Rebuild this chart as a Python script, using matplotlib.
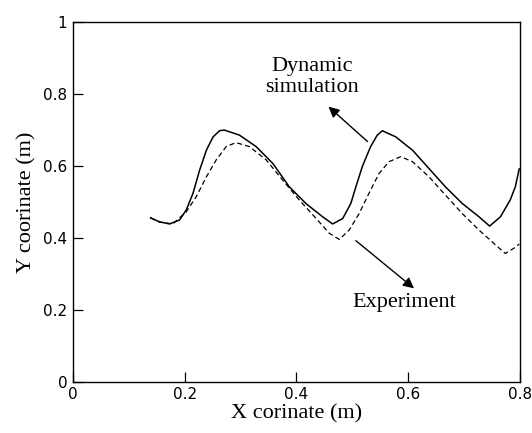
import matplotlib.pyplot as plt

# solid line: dynamic simulation
sim_x = [0.139, 0.155, 0.173, 0.191, 0.203, 0.215, 0.227, 0.239, 0.251, 0.2625, 0.271, 0.298,
         0.328, 0.358, 0.3875, 0.417, 0.447, 0.465, 0.483, 0.4976, 0.5066, 0.518, 0.533, 0.545,
         0.554, 0.578, 0.608, 0.6375, 0.667, 0.697, 0.727, 0.746, 0.7655, 0.783, 0.792, 0.799]
sim_y = [0.456, 0.445, 0.439, 0.450, 0.478, 0.524, 0.589, 0.644, 0.681, 0.698, 0.700, 0.686,
         0.654, 0.607, 0.542, 0.496, 0.459, 0.439, 0.454, 0.496, 0.542, 0.598, 0.654, 0.686,
         0.698, 0.681, 0.644, 0.593, 0.542, 0.496, 0.459, 0.433, 0.459, 0.506, 0.542, 0.592]

# dashed line: experiment
exp_x = [0.139, 0.155, 0.179, 0.203, 0.221, 0.239, 0.2566, 0.2745, 0.292, 0.316, 0.346, 0.3755,
         0.405, 0.435, 0.459, 0.477, 0.4946, 0.5125, 0.530, 0.548, 0.566, 0.587, 0.608, 0.6375,
         0.667, 0.697, 0.727, 0.7565, 0.774, 0.789, 0.799]
exp_y = [0.456, 0.444, 0.439, 0.473, 0.515, 0.570, 0.617, 0.654, 0.665, 0.654, 0.617, 0.561,
         0.506, 0.455, 0.413, 0.396, 0.422, 0.468, 0.524, 0.579, 0.612, 0.626, 0.612, 0.570,
         0.519, 0.468, 0.422, 0.381, 0.357, 0.371, 0.383]

xticks = [0, 0.2, 0.4, 0.6, 0.8]
xlabels = ['0', '0.2', '0.4', '0.6', '0.8']
yticks = [0, 0.2, 0.4, 0.6, 0.8, 1]
ylabels = ['0', '0.2', '0.4', '0.6', '0.8', '1']

fig = plt.figure(figsize=(5.32, 4.33), dpi=100)
ax = fig.add_axes([0.137, 0.118, 0.840, 0.831])

ax.plot(sim_x, sim_y, 'k-', lw=1.1)
ax.plot(exp_x, exp_y, 'k--', lw=0.9, dashes=(4, 2.5))

ax.set_xlim(0, 0.8)
ax.set_ylim(0, 1)
ax.set_xticks(xticks)
ax.set_xticklabels(xlabels)
ax.set_yticks(yticks)
ax.set_yticklabels(ylabels)
ax.tick_params(direction='in', length=7, width=0.9, labelsize=11, pad=4)
for s in ax.spines.values():
    s.set_linewidth(1.0)

ax.set_xlabel('X corinate (m)', family='Liberation Serif', fontsize=16, labelpad=1)
ax.set_ylabel('Y coorinate (m)', family='Liberation Serif', fontsize=16, labelpad=5)

arr = dict(arrowstyle='-|>', color='k', lw=1.0, mutation_scale=16, shrinkA=0, shrinkB=0)
ax.annotate('', xy=(0.4576, 0.765), xytext=(0.5274, 0.668), arrowprops=arr)
ax.annotate('', xy=(0.6107, 0.260), xytext=(0.5066, 0.3925), arrowprops=arr)

ax.text(0.428, 0.847, 'Dynamic\nsimulation', family='Liberation Serif', fontsize=16,
        ha='center', va='center', linespacing=1.1)
ax.text(0.593, 0.222, 'Experiment', family='Liberation Serif', fontsize=16,
        ha='center', va='center')

fig.savefig('out.png', dpi=100)
